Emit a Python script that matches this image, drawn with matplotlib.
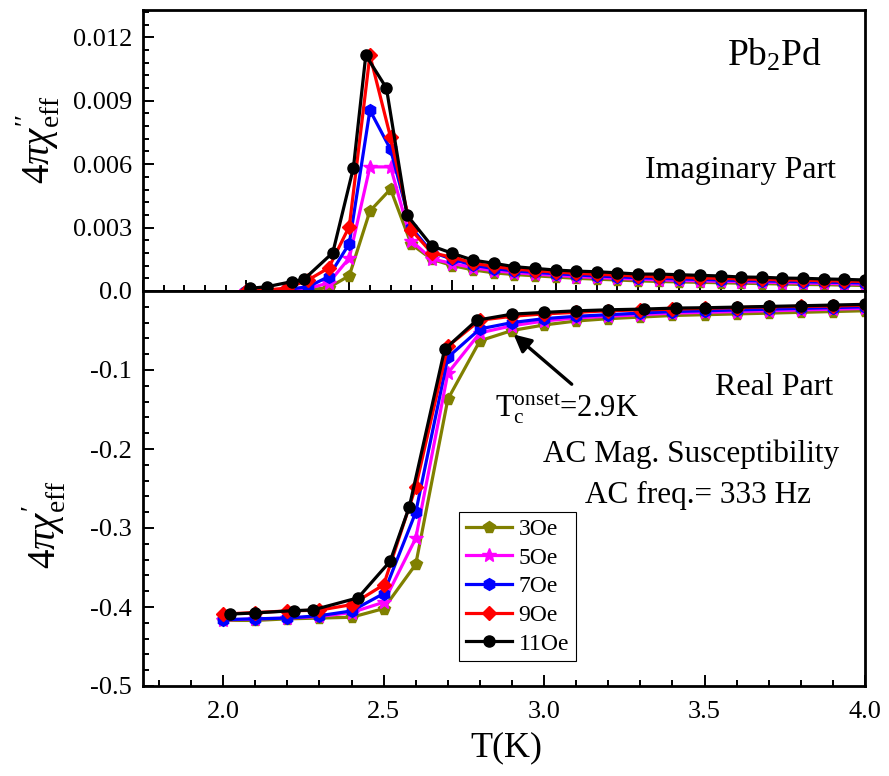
import matplotlib

matplotlib.use("Agg")
import matplotlib.pyplot as plt  # noqa: E402
from matplotlib.ticker import MultipleLocator, FormatStrFormatter, NullFormatter  # noqa: E402

# ---- data -----------------------------------------------------------------
# imaginary part (upper panel), 3/5/7/9 Oe share one temperature grid
T_im = [2.50, 2.55, 2.60, 2.65, 2.70, 2.75, 2.80, 2.85, 2.90, 2.95,
        3.00, 3.05, 3.10, 3.15, 3.20, 3.25, 3.30, 3.35, 3.40, 3.45,
        3.50, 3.55, 3.60, 3.65, 3.70, 3.75, 3.80, 3.85, 3.90, 3.95, 4.00]
im_3 = [0.0, 0.0, 0.00002, 0.00005, 0.00016, 0.00072, 0.00378, 0.00482, 0.00222, 0.00150,
        0.00120, 0.00100, 0.00086, 0.00078, 0.00072, 0.00066, 0.00060, 0.00056, 0.00052, 0.00048,
        0.00045, 0.00043, 0.00041, 0.00039, 0.00037, 0.00035, 0.00033, 0.00031, 0.00030, 0.00028,
        0.00026]
im_5 = [0.0, 0.0, 0.00004, 0.00012, 0.00038, 0.00156, 0.00587, 0.00587, 0.00238, 0.00152,
        0.00130, 0.00110, 0.00096, 0.00087, 0.00080, 0.00074, 0.00068, 0.00064, 0.00060, 0.00056,
        0.00053, 0.00050, 0.00048, 0.00046, 0.00044, 0.00042, 0.00040, 0.00038, 0.00036, 0.00034,
        0.00032]
im_7 = [0.0, 0.00002, 0.00008, 0.00020, 0.00068, 0.00224, 0.00855, 0.00670, 0.00300, 0.00184,
        0.00150, 0.00122, 0.00106, 0.00095, 0.00088, 0.00082, 0.00076, 0.00071, 0.00067, 0.00063,
        0.00060, 0.00057, 0.00055, 0.00052, 0.00050, 0.00048, 0.00046, 0.00044, 0.00042, 0.00040,
        0.00038]
im_9 = [0.0, 0.00005, 0.00014, 0.00052, 0.00109, 0.00305, 0.01115, 0.00727, 0.00289, 0.00180,
        0.00160, 0.00132, 0.00116, 0.00104, 0.00096, 0.00090, 0.00084, 0.00079, 0.00075, 0.00071,
        0.00068, 0.00065, 0.00062, 0.00060, 0.00057, 0.00055, 0.00053, 0.00051, 0.00049, 0.00047,
        0.00045]
T_im_11 = [2.51, 2.55, 2.61, 2.64, 2.71, 2.76, 2.79, 2.84, 2.89, 2.95,
           3.00, 3.05, 3.10, 3.15, 3.20, 3.25, 3.30, 3.35, 3.40, 3.45,
           3.50, 3.55, 3.60, 3.65, 3.70, 3.75, 3.80, 3.85, 3.90, 3.95, 4.00]
im_11 = [0.00013, 0.00020, 0.00044, 0.00055, 0.00181, 0.00583, 0.01115, 0.00960, 0.00359, 0.00213,
         0.00178, 0.00146, 0.00131, 0.00115, 0.00107, 0.00099, 0.00094, 0.00091, 0.00086, 0.00080,
         0.00080, 0.00077, 0.00074, 0.00071, 0.00066, 0.00065, 0.00061, 0.00060, 0.00057, 0.00055,
         0.00052]

# real part (lower panel)
T_re = [2.0, 2.1, 2.2, 2.3, 2.4, 2.5, 2.6, 2.7, 2.8, 2.9, 3.0,
        3.1, 3.2, 3.3, 3.4, 3.5, 3.6, 3.7, 3.8, 3.9, 4.0]
re_3 = [-0.417, -0.417, -0.415, -0.414, -0.413, -0.402, -0.346, -0.137, -0.063, -0.050, -0.043,
        -0.038, -0.035, -0.033, -0.031, -0.030, -0.029, -0.028, -0.027, -0.026, -0.025]
re_5 = [-0.4165, -0.415, -0.414, -0.412, -0.407, -0.394, -0.313, -0.104, -0.053, -0.044, -0.038,
        -0.034, -0.032, -0.030, -0.028, -0.027, -0.026, -0.025, -0.024, -0.023, -0.022]
re_7 = [-0.416, -0.415, -0.414, -0.411, -0.405, -0.383, -0.280, -0.084, -0.048, -0.040, -0.035,
        -0.032, -0.030, -0.028, -0.026, -0.025, -0.024, -0.023, -0.022, -0.021, -0.020]
re_9 = [-0.409, -0.407, -0.405, -0.404, -0.397, -0.372, -0.248, -0.070, -0.037, -0.032, -0.029,
        -0.027, -0.025, -0.024, -0.023, -0.022, -0.021, -0.020, -0.0195, -0.019, -0.018]
T_re_11 = [2.02, 2.10, 2.22, 2.28, 2.42, 2.52, 2.58, 2.69, 2.79, 2.90, 3.00,
           3.10, 3.20, 3.31, 3.41, 3.50, 3.60, 3.70, 3.80, 3.90, 4.00]
re_11 = [-0.409, -0.4075, -0.4046, -0.4037, -0.3884, -0.3422, -0.2731, -0.0738, -0.0370, -0.0293,
         -0.0271, -0.0251, -0.0238, -0.0229, -0.0216, -0.0212, -0.0204, -0.0195, -0.0187, -0.0178,
         -0.0169]

labels = ["3Oe", "5Oe", "7Oe", "9Oe", "11Oe"]
colors = ["#808000", "#FF00FF", "#0000FF", "#FF0000", "#000000"]
markers = ["p", "*", "h", "D", "o"]
msizes = [8.5, 10.5, 8.5, 7.5, 8.0]

im_series = [(T_im, im_3), (T_im, im_5), (T_im, im_7), (T_im, im_9), (T_im_11, im_11)]
re_series = [(T_re, re_3), (T_re, re_5), (T_re, re_7), (T_re, re_9), (T_re_11, re_11)]

# ---- figure ---------------------------------------------------------------
W, H = 889, 776
plt.rcParams.update({
    "font.family": ["Liberation Serif", "DejaVu Serif"],
    "mathtext.fontset": "custom",
    "mathtext.rm": "Liberation Serif",
    "mathtext.it": "Liberation Serif:italic",
    "mathtext.bf": "Liberation Serif:bold",
    "axes.unicode_minus": False,
})


def px(x, y):
    """pixel position in the reference -> figure fraction"""
    return x / W, 1 - y / H


fig = plt.figure(figsize=(W / 100, H / 100), dpi=100)
L, R, TOP, MID, BOT = 143, 865, 10, 291, 686
ax_im = fig.add_axes([L / W, 1 - MID / H, (R - L) / W, (MID - TOP) / H])
ax_re = fig.add_axes([L / W, 1 - BOT / H, (R - L) / W, (BOT - MID) / H])

for i in range(5):
    kw = dict(color=colors[i], marker=markers[i], markersize=msizes[i],
              markeredgecolor=colors[i], linewidth=2.3, label=labels[i])
    ax_im.plot(*im_series[i], **kw)
    ax_re.plot(*re_series[i], **kw)

for ax in (ax_im, ax_re):
    for s in ax.spines.values():
        s.set_linewidth(2.0)
    ax.tick_params(which="both", direction="in", width=1.4, top=False, right=False,
                   labelsize=19, pad=8)
    ax.tick_params(which="major", length=8)
    ax.tick_params(which="minor", length=4)
ax_re.tick_params(axis="x", pad=11)

ax_im.set_xlim(2.25, 4.0)
ax_im.xaxis.set_major_locator(MultipleLocator(0.25))
ax_im.xaxis.set_minor_locator(MultipleLocator(0.05))
ax_im.xaxis.set_major_formatter(NullFormatter())
ax_im.set_ylim(0, 0.01329)
ax_im.set_yticks([0.003, 0.006, 0.009, 0.012])
ax_im.yaxis.set_minor_locator(MultipleLocator(0.0006))
ax_im.yaxis.set_major_formatter(FormatStrFormatter("%.3f"))

ax_re.set_xlim(1.75, 4.0)
ax_re.xaxis.set_major_locator(MultipleLocator(0.5))
ax_re.xaxis.set_minor_locator(MultipleLocator(0.1))
ax_re.xaxis.set_major_formatter(FormatStrFormatter("%.1f"))
ax_re.set_ylim(-0.5, 0.0)
ax_re.yaxis.set_major_locator(MultipleLocator(0.1))
ax_re.yaxis.set_minor_locator(MultipleLocator(0.02))
ax_re.yaxis.set_major_formatter(FormatStrFormatter("%.1f"))

# axis titles
fig.text(*px(506, 748), "T(K)", fontsize=26, ha="center", va="center")
fig.text(*px(38, 140), r"$\mathit{4\pi\chi}_{\mathrm{eff}}^{\prime\prime}$",
         fontsize=28, rotation=90, ha="center", va="center")
fig.text(*px(44, 525), r"$\mathit{4\pi\chi}_{\mathrm{eff}}^{\prime}$",
         fontsize=28, rotation=90, ha="center", va="center")

# annotations
fig.text(*px(727, 66), r"Pb$_\mathrm{2}$Pd", fontsize=27, va="baseline")
fig.text(*px(645, 178), "Imaginary Part", fontsize=23, va="baseline")
fig.text(*px(715, 395), "Real Part", fontsize=23, va="baseline")
fig.text(*px(543, 462), "AC Mag. Susceptibility", fontsize=22.5, va="baseline")
fig.text(*px(585, 503), "AC freq.= 333 Hz", fontsize=22.5, va="baseline")
fig.text(*px(495, 416), r"T$_\mathrm{c}^\mathrm{onset}$=2.9K", fontsize=22, va="baseline")
ax_re.annotate("", xy=(2.905, -0.055), xytext=(3.086, -0.118),
               arrowprops=dict(arrowstyle="-|>", color="k", lw=2.4, mutation_scale=26,
                               shrinkA=0, shrinkB=0))

leg = ax_re.legend(loc="upper left", bbox_to_anchor=px(459, 512),
                   bbox_transform=fig.transFigure, borderaxespad=0, fontsize=17,
                   numpoints=1, handlelength=1.95, handletextpad=0.3, labelspacing=0.3,
                   borderpad=0.28, fancybox=False, framealpha=1, edgecolor="k")
leg.get_frame().set_linewidth(0.8)

fig.savefig("out.png", dpi=100)
